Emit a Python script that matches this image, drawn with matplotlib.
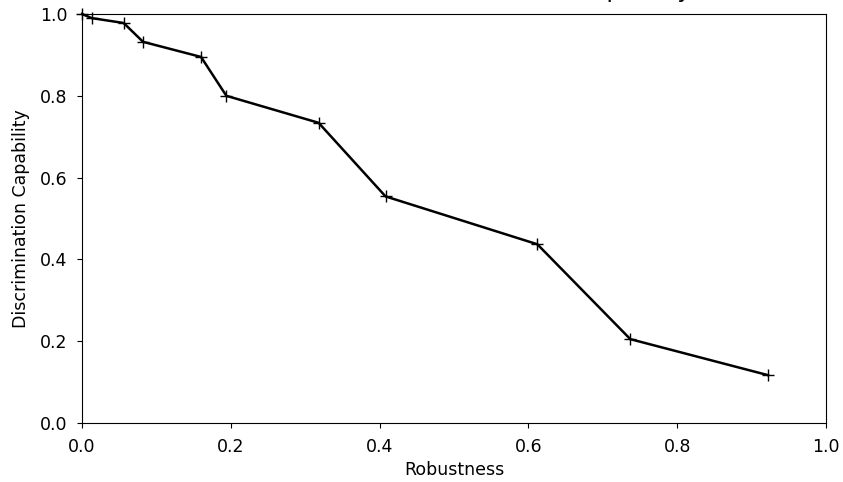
import matplotlib
matplotlib.use("Agg")
import matplotlib.pyplot as plt

# Robustness / discrimination trade-off curve
robustness = [0.0, 0.013, 0.056, 0.082, 0.160, 0.194, 0.318, 0.408, 0.612, 0.737, 0.922]
discrimination = [1.0, 0.990, 0.978, 0.932, 0.895, 0.800, 0.734, 0.554, 0.437, 0.205, 0.117]

TITLE = "Robustness vs Discrimination Capability"


def main():
    fig = plt.figure(figsize=(8.43, 4.82), dpi=100)
    ax = fig.add_axes([82 / 843, 1 - 423 / 482, (826 - 82) / 843, (423 - 14) / 482])

    ax.plot(robustness, discrimination, color="black", marker="+",
            markersize=8, linewidth=1.8, clip_on=False)

    ax.set_xlim(0, 1)
    ax.set_ylim(0, 1)
    ax.tick_params(labelsize=12.5, pad=7)
    ax.set_xlabel("Robustness", fontsize=12.5, labelpad=4)
    ax.set_ylabel("Discrimination Capability", fontsize=12.5, labelpad=7)
    ax.set_title(TITLE, fontsize=16.5, pad=12, x=0.51)

    fig.savefig("out.png", dpi=100)
    plt.close(fig)


if __name__ == "__main__":
    main()
